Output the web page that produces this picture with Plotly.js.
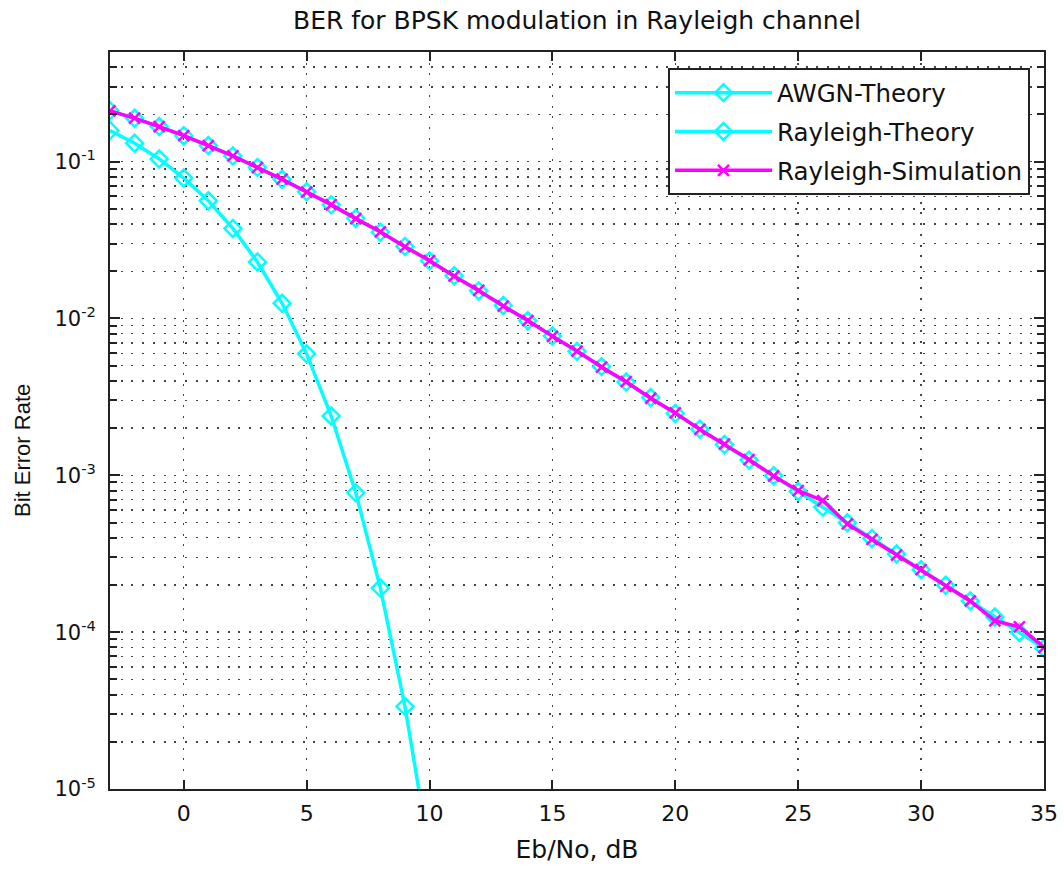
<!DOCTYPE html>
<html><head><meta charset="utf-8">
<script src="https://cdn.plot.ly/plotly-3.0.1.min.js"></script>
<style>html,body{margin:0;padding:0;background:#fff;} #chart{width:1064px;height:869px;}</style>
</head><body><div id="chart"></div>
<script>
const ebNoDb = [-3,-2,-1,0,1,2,3,4,5,6,7,8,9,10,11,12,13,14,15,16,17,18,19,20,21,22,23,24,25,26,27,28,29,30,31,32,33,34,35];
const awgnX = [-3,-2,-1,0,1,2,3,4,5,6,7,8,9,10,11];
const awgnTheory = [0.158,0.131,0.104,0.0786,0.0563,0.0375,0.0229,0.0125,0.00595,0.00239,0.000773,0.000191,0.0000336,0.00000387,0.00000026];
const rayleighTheory = [0.2111,0.1890,0.1674,0.1464,0.1267,0.1085,0.0919,0.0771,0.0642,0.0530,0.0435,0.0355,0.0288,0.0233,0.0187,0.0150,0.0121,0.00967,0.00773,0.00617,0.00493,0.00393,0.00313,0.00248,0.00197,0.00157,0.00125,0.000993,0.000789,0.000627,0.000498,0.000396,0.000315,0.000250,0.000199,0.000158,0.000125,0.0000995,0.0000790];
const rayleighSim = [0.2108,0.1893,0.1671,0.1466,0.1265,0.1087,0.0917,0.0773,0.0640,0.0532,0.0433,0.0357,0.0287,0.0234,0.0186,0.0151,0.0120,0.00970,0.00770,0.00620,0.00490,0.00395,0.00310,0.00250,0.00196,0.00158,0.00126,0.00099,0.00080,0.00069,0.00049,0.00039,0.00031,0.00025,0.000196,0.000158,0.000118,0.000108,0.000080];
const xTickVals = [0,5,10,15,20,25,30,35];
const yDecades = [1e-5,1e-4,1e-3,1e-2,1e-1];
const yDecadeLabels = ["10<sup>-5</sup>","10<sup>-4</sup>","10<sup>-3</sup>","10<sup>-2</sup>","10<sup>-1</sup>"];
const seriesNames = ["AWGN-Theory","Rayleigh-Theory","Rayleigh-Simulation"];
const chartTitle = "BER for BPSK modulation in Rayleigh channel";
const xTitle = "Eb/No, dB";
const yTitle = "Bit Error Rate";

const yMinorVals = [];
yDecades.forEach((d) => {
  for (let m = 2; m <= 9; m++) {
    const v = d * m;
    if (v > 0.5 + 1e-12) break;
    yMinorVals.push(v);
  }
});

const FONT = "DejaVu Sans, Liberation Sans, Arial, sans-serif";
const FONT2 = "Liberation Sans, Arial, sans-serif";
const cyan = "#00FFFF", magenta = "#FF00FF";

const traces = [
  {x: awgnX, y: awgnTheory, name: seriesNames[0], type: "scatter", mode: "lines+markers", legendgroup: "a",
   line: {color: cyan, width: 3.5}, marker: {symbol: "diamond-open", size: 13, color: cyan, line: {color: cyan, width: 2.5}}},
  {x: ebNoDb, y: rayleighTheory, name: seriesNames[1], type: "scatter", mode: "lines+markers", legendgroup: "b",
   line: {color: cyan, width: 3.5}, marker: {symbol: "diamond-open", size: 13, color: cyan, line: {color: cyan, width: 2.5}}},
  {x: ebNoDb, y: rayleighSim, name: seriesNames[2], type: "scatter", mode: "lines+markers", legendgroup: "c",
   line: {color: magenta, width: 3.5}, marker: {symbol: "x-thin-open", size: 11, color: magenta, line: {color: magenta, width: 2.5}}}
];

const gridDash = "2px,8.7px";
const layout = {
  width: 1064, height: 869,
  margin: {l: 110, r: 20, t: 52, b: 80, pad: 0},
  paper_bgcolor: "#fff", plot_bgcolor: "#fff",
  font: {family: FONT, size: 24, color: "#111"},
  title: {text: chartTitle, font: {family: FONT, size: 25, color: "#111"},
          x: 0.5, xref: "paper", y: 1 - 20/869, yref: "container", yanchor: "middle"},
  xaxis: {range: [-3, 35], tickmode: "array", tickvals: xTickVals, ticks: "inside", ticklen: 9, tickwidth: 2, tickcolor: "#222",
          showline: true, linecolor: "#222", linewidth: 2, mirror: "ticks", zeroline: false,
          showgrid: true, gridcolor: "#444", gridwidth: 1.5, griddash: gridDash,
          tickfont: {family: FONT, size: 22, color: "#111"}, ticklabelstandoff: 4,
          title: {text: xTitle, font: {family: FONT, size: 25, color: "#111"}, standoff: 15}},
  yaxis: {type: "log", range: [-5, Math.log10(0.5)], tickmode: "array", tickvals: yDecades, ticktext: yDecadeLabels,
          ticks: "inside", ticklen: 10, tickwidth: 2, tickcolor: "#222",
          showline: true, linecolor: "#222", linewidth: 2, mirror: "ticks", zeroline: false,
          showgrid: true, gridcolor: "#444", gridwidth: 1.5, griddash: gridDash,
          minor: {tickmode: "array", tickvals: yMinorVals, ticks: "inside", ticklen: 7, tickwidth: 2, tickcolor: "#222",
                  showgrid: true, gridcolor: "#444", gridwidth: 1.5, griddash: gridDash},
          tickfont: {family: FONT, size: 21, color: "#111"}, ticklabelstandoff: 8},
  annotations: [{text: yTitle, textangle: -90, xref: "paper", yref: "paper", x: (22 - 110)/934, y: (789 - 451)/737,
                 xanchor: "center", yanchor: "middle", showarrow: false, font: {family: FONT2, size: 22, color: "#111"}}],
  legend: {x: 0.985, y: 0.978, xanchor: "right", yanchor: "top", bgcolor: "#fff", bordercolor: "#222", borderwidth: 2,
           font: {family: FONT, size: 24.5, color: "#111"}, tracegroupgap: 4, itemwidth: 97},
  showlegend: true
};

Plotly.newPlot("chart", traces, layout, {displayModeBar: false, staticPlot: true});
</script>
</body></html>
